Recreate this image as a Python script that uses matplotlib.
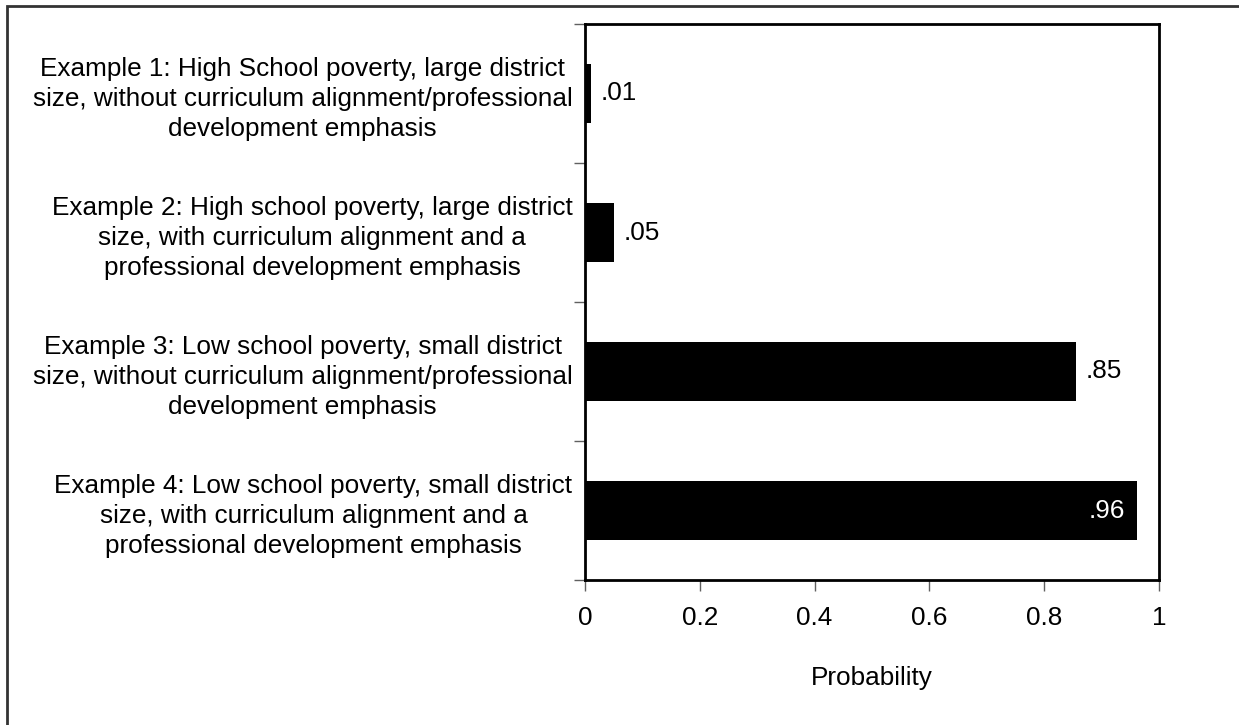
import matplotlib
matplotlib.use("Agg")
import matplotlib.pyplot as plt
from matplotlib.patches import Rectangle
import numpy as np

plt.rcParams.update({"font.family": ["Liberation Sans", "DejaVu Sans"], "font.size": 18.8})

labels = [
    "Example 1: High School poverty, large district\nsize, without curriculum alignment/professional\ndevelopment emphasis",
    "Example 2: High school poverty, large district\nsize, with curriculum alignment and a\nprofessional development emphasis",
    "Example 3: Low school poverty, small district\nsize, without curriculum alignment/professional\ndevelopment emphasis",
    "Example 4: Low school poverty, small district\nsize, with curriculum alignment and a\nprofessional development emphasis",
]
probs = [0.01, 0.05, 0.855, 0.962]
value_text = [".01", ".05", ".85", ".96"]
xticks = [0, 0.2, 0.4, 0.6, 0.8, 1]

W, H = 1239, 725
fig = plt.figure(figsize=(W / 100, H / 100), dpi=100)
ax = fig.add_axes([585 / W, 1 - 580 / H, 574 / W, 556 / H])

y = np.arange(len(labels))
ax.barh(y, probs, height=0.43, color="black")
ax.set_xlim(0, 1)
ax.set_ylim(len(labels) - 0.5, -0.5)

for yi, p, t in zip(y, probs, value_text):
    if p > 0.9:
        ax.annotate(t, (p, yi), xytext=(-12, 0), textcoords="offset pixels",
                    ha="right", va="center", color="white")
    else:
        ax.annotate(t, (p, yi), xytext=(10, 0), textcoords="offset pixels",
                    ha="left", va="center", color="black")

ax.set_yticks(y)
ax.set_yticklabels(labels, ha="right", multialignment="center", linespacing=1.31)
ax.tick_params(axis="y", which="major", length=0, pad=9)
ax.set_yticks(np.arange(len(labels) + 1) - 0.5, minor=True)
ax.tick_params(axis="y", which="minor", length=8, width=1, color="#606060")

ax.set_xticks(xticks)
ax.set_xticklabels([f"{v:g}" for v in xticks])
ax.tick_params(axis="x", length=8, width=1, color="#606060", pad=11)
ax.set_xlabel("Probability", labelpad=26)

for s in ax.spines.values():
    s.set_linewidth(2)
    s.set_color("black")

# outer frame (clipped at right and bottom edge as in the original)
fig.patches.append(Rectangle((7 / W, -0.1), 1.1, 1 - 6 / H + 0.1, transform=fig.transFigure,
                             fill=False, edgecolor="#333333", linewidth=2))

fig.savefig("out.png", dpi=100)
